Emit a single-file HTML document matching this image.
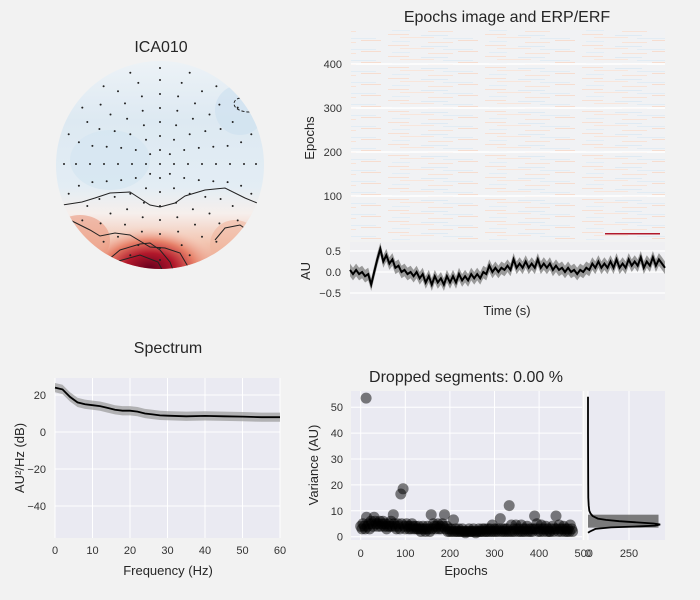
<!DOCTYPE html>
<html><head><meta charset="utf-8">
<style>
html,body{margin:0;padding:0;background:#f2f2f2;}
svg{display:block;font-family:"Liberation Sans",Arial,sans-serif;}
.tk{font-size:11px;fill:#333;}
.lb{font-size:13px;fill:#262626;}
.tt{font-size:16px;fill:#262626;}
</style></head>
<body>
<svg id="fig" width="700" height="600" viewBox="0 0 700 600">
<defs>
  <clipPath id="headclip"><circle cx="160" cy="165" r="104"/></clipPath>
  <radialGradient id="redblob" cx="0.5" cy="0.5" r="0.5">
    <stop offset="0" stop-color="#67001f"/>
    <stop offset="0.35" stop-color="#b2182b"/>
    <stop offset="0.65" stop-color="#e7826a"/>
    <stop offset="1" stop-color="#f7d8cc" stop-opacity="0"/>
  </radialGradient>
  <linearGradient id="headbg" x1="0" y1="0" x2="0" y2="1">
    <stop offset="0" stop-color="#eef3f7"/>
    <stop offset="0.3" stop-color="#dde9f2"/>
    <stop offset="0.6" stop-color="#e3edf4"/>
    <stop offset="0.72" stop-color="#f6efec"/>
    <stop offset="0.85" stop-color="#f3c6b2"/>
    <stop offset="1" stop-color="#e58b70"/>
  </linearGradient>
  <pattern id="noise" width="97" height="11" patternUnits="userSpaceOnUse">
    <rect width="97" height="11" fill="#f1f2f4"/>
    <rect x="0" y="1" width="21" height="1" fill="#f7e0d4"/>
    <rect x="33" y="2" width="27" height="1" fill="#dfeaf3"/>
    <rect x="12" y="4" width="34" height="1" fill="#f8e6dc"/>
    <rect x="55" y="5" width="30" height="1" fill="#e2ecf4"/>
    <rect x="70" y="7" width="20" height="1" fill="#f6ddd0"/>
    <rect x="4" y="8" width="18" height="1" fill="#e3edf5"/>
    <rect x="40" y="9" width="25" height="1" fill="#f7e3d8"/>
  </pattern>
</defs>

<!-- Topomap -->
<g>
  <text class="tt" x="161" y="52" text-anchor="middle">ICA010</text>
  <g clip-path="url(#headclip)">
    <rect x="50" y="55" width="220" height="220" fill="url(#headbg)"/>
    <ellipse cx="110" cy="160" rx="40" ry="30" fill="#d4e5f1" opacity="0.7"/>
    <ellipse cx="240" cy="110" rx="25" ry="25" fill="#cfe1ef" opacity="0.7"/>
    <ellipse cx="150" cy="268" rx="70" ry="42" fill="url(#redblob)"/>
    <ellipse cx="80" cy="240" rx="30" ry="25" fill="#eb9a80" opacity="0.6"/>
    <ellipse cx="235" cy="245" rx="25" ry="25" fill="#f0b59e" opacity="0.6"/>
    <path d="M56,206 L82,202 L95,198 L110,193 L130,192 L150,205 L160,207 L175,203 L185,196 L205,190 L225,188 L245,198 L262,205" fill="none" stroke="#222" stroke-width="1"/>
    <path d="M70,220 L90,230 L100,236 L115,233 L130,235 L150,247 L165,248 L180,253 L190,270" fill="none" stroke="#222" stroke-width="1"/>
    <path d="M108,260 L120,250 L140,244 L150,243 L160,250 L170,262 L175,275" fill="none" stroke="#222" stroke-width="1"/>
    <path d="M115,262 L140,255 L158,262 L165,275" fill="none" stroke="#222" stroke-width="1"/>
    <path d="M215,240 L225,228 L240,225 L250,232" fill="none" stroke="#222" stroke-width="1"/>
    <path d="M240,98 C230,100 232,112 250,112" fill="none" stroke="#222" stroke-width="1" stroke-dasharray="3,2"/>
  </g>
  <g id="sensors" fill="#222"></g>
</g>

<!-- Epochs image -->
<g>
  <text class="tt" x="507" y="22" text-anchor="middle">Epochs image and ERP/ERF</text>
  <rect x="351" y="30" width="314" height="210" fill="url(#noise)"/>
  <rect x="605" y="233" width="55" height="1.5" fill="#b2182b"/>
  <g id="epochsGrid"></g>
  <text class="lb" transform="translate(314,138) rotate(-90)" text-anchor="middle">Epochs</text>
  <g id="erp"></g>
  <text class="lb" transform="translate(310,271) rotate(-90)" text-anchor="middle">AU</text>
  <text class="lb" x="507" y="315" text-anchor="middle">Time (s)</text>
</g>

<!-- Spectrum -->
<g>
  <text class="tt" x="168" y="353" text-anchor="middle">Spectrum</text>
  <g id="spec"></g>
  <text class="lb" transform="translate(24,458) rotate(-90)" text-anchor="middle">AU²/Hz (dB)</text>
  <text class="lb" x="168" y="575" text-anchor="middle">Frequency (Hz)</text>
</g>

<!-- Dropped segments -->
<g>
  <text class="tt" x="466" y="382" text-anchor="middle">Dropped segments: 0.00 %</text>
  <g id="varp"></g>
  <text class="lb" transform="translate(318,465) rotate(-90)" text-anchor="middle">Variance (AU)</text>
  <text class="lb" x="466" y="575" text-anchor="middle">Epochs</text>
  <g id="hist"></g>
</g>
</svg>

<script>
// ---- data ----
const epochTicks = [100, 200, 300, 400];
const erpValues = [0.05,-0.05,0.05,-0.05,0.0,-0.1,-0.05,-0.3,0.0,0.3,0.55,0.25,0.4,0.2,0.3,0.1,0.15,0.0,0.05,-0.05,0.0,-0.1,0.0,-0.15,-0.05,-0.25,-0.1,-0.3,-0.1,-0.25,-0.15,-0.3,-0.1,-0.25,-0.1,-0.25,-0.05,-0.2,-0.1,-0.2,-0.05,-0.15,-0.05,-0.15,0.0,-0.05,0.15,0.0,0.1,0.0,0.1,0.05,0.15,0.05,0.3,0.1,0.2,0.1,0.25,0.1,0.2,0.1,0.3,0.1,0.2,0.1,0.2,0.05,0.15,0.05,0.1,0.0,0.1,0.0,0.05,-0.05,0.05,0.0,0.1,0.05,0.2,0.1,0.25,0.1,0.2,0.1,0.25,0.1,0.3,0.1,0.2,0.1,0.3,0.15,0.25,0.15,0.35,0.1,0.25,0.15,0.35,0.15,0.3,0.2,0.1];
const erpTicks = [0.5, 0.0, -0.5];
const erpTickLabels = ["0.5", "0.0", "\u22120.5"];
const specFreqs = [0,2,4,6,8,10,12,14,16,18,20,22,24,26,28,30,35,40,45,50,55,60];
const specPower = [24,23,19,16,15,14.5,14,13,12,11.5,11.5,11,10,9.5,9,8.8,8.5,8.7,8.5,8.3,8,8];
const specXTicks = [0,10,20,30,40,50,60];
const specYTicks = [20,0,-20,-40];
const varEpochs = [0,3,5,8,10,12,13,15,18,20,23,25,28,30,32,35,38,40,43,45,48,50,53,55,58,60,63,65,68,70,73,75,78,80,83,85,88,90,92,95,98,100,103,105,108,110,113,115,118,120,123,125,128,130,133,135,138,140,143,145,148,150,153,155,158,160,163,165,168,170,173,175,178,180,183,185,188,190,193,195,198,200,203,205,208,210,213,215,218,220,223,225,228,230,233,235,238,240,243,245,248,250,253,255,258,260,263,265,268,270,273,275,278,280,283,285,288,290,293,295,298,300,303,305,308,310,313,315,318,320,323,325,328,330,333,335,338,340,343,345,348,350,353,355,358,360,363,365,368,370,373,375,378,380,383,385,388,390,393,395,398,400,403,405,408,410,413,415,418,420,423,425,428,430,433,435,438,440,443,445,448,450,453,455,458,460,463,465,468,470,473,475];
const varValues = [4,3,5,4,3,53.5,7.5,4,5,3,6,5,4,7.5,6,5,4,5,6,4,5,6,4,5,3,4,5,4,6,4,8.5,5,4,3,5,4,3,16.5,5,18.5,4,3,5,4,3,4,3,5,4,3,4,3,3,4,3,2,3,4,3,2,3,4,3,2,8.5,3,5,4,3,4,5,3,4,3,5,4,8.5,3,4,2,3,2,3,2,6.5,2,3,2,2,3,2,2,3,2,2,1.5,2,2,3,2,2,2,3,2,1.5,2,2,3,2,2,3,2,3,2,2,3,2,3,2,4.5,2,3,2,3,2,3,7,2,3,2,3,2,3,2,12,2,4.5,2,3,2,4.5,3,2,3,2,4.5,2,3,2,3,4,2,3,2,3,2,3,8,3,5,2,3,2,4.5,3,2,3,4,2,3,2,2,3,4,2,3,8,3,2,4.5,3,2,3,4,2,3,2,3,2,4.5,3,2,3,2,4,3,2,3,2];
const varXTicks = [0,100,200,300,400,500];
const varYTicks = [0,10,20,30,40,50];
const histLow = [3.5];
const histHigh = [8.5];
const histCounts = [430];
const densityVar = [1.5,2,3,3.6,4,4.3,4.7,5.1,5.5,6,6.5,7,8,9,10,12,15,20,30,40,54];
const densityVal = [0,12,45,140,320,410,440,400,310,190,110,60,28,15,8,4,2,1,0.5,0.2,0];
const histXTicks = [0,250];

const NS = "http://www.w3.org/2000/svg";
function mk(parent, tag, attrs){const e=document.createElementNS(NS,tag);for(const k in attrs)e.setAttribute(k,attrs[k]);parent.appendChild(e);return e;}
function lin(d0,d1,r0,r1){return v=>r0+(v-d0)*(r1-r0)/(d1-d0);}

// sensors (decorative layout)
(function(){
  const g=document.getElementById('sensors');
  const rings=[[0,1],[14,8],[28,12],[42,16],[56,20],[70,24],[84,24],[96,20]];
  rings.forEach(([r,n])=>{for(let i=0;i<n;i++){const a=2*Math.PI*i/n-Math.PI/2;const x=160+r*Math.cos(a),y=164+r*Math.sin(a);
    if(Math.hypot(x-160,y-165)<100){const c=mk(g,'circle',{cx:x.toFixed(1),cy:y.toFixed(1),r:1});
    
    }}});
})();

// epochs image axis
(function(){
  const g=document.getElementById('epochsGrid');
  const y=lin(0,100,240,196);
  epochTicks.forEach(t=>{
    const l=mk(g,'line',{x1:351,x2:665,y1:y(t),y2:y(t),stroke:'#fff','stroke-width':1.5});
    
    
    const tx=mk(g,'text',{class:'tk',x:342,y:y(t)+4,'text-anchor':'end'});tx.textContent=t;
    
    
  });
})();

// ERP
(function(){
  const g=document.getElementById('erp');
  mk(g,'rect',{x:350,y:242,width:315,height:58,fill:'#efeff2'});
  const y=lin(0,0.5,272,251);
  const x=lin(0,erpValues.length-1,350,665);
  erpTicks.forEach((t,i)=>{
    const l=mk(g,'line',{x1:350,x2:665,y1:y(t),y2:y(t),stroke:'#fff','stroke-width':1.2});
    
    
    const tx=mk(g,'text',{class:'tk',x:341,y:y(t)+4,'text-anchor':'end'});tx.textContent=erpTickLabels[i];
    
    
  });
  let up='',dn='';
  erpValues.forEach((v,i)=>{up+=(i?'L':'M')+x(i).toFixed(1)+','+y(v+0.15).toFixed(1);});
  for(let i=erpValues.length-1;i>=0;i--){dn+='L'+x(i).toFixed(1)+','+y(erpValues[i]-0.15).toFixed(1);}
  const band=mk(g,'path',{d:up+dn+'Z',fill:'#8a8a8a',opacity:0.85});
  
  
  let d='';erpValues.forEach((v,i)=>{d+=(i?'L':'M')+x(i).toFixed(1)+','+y(v).toFixed(1);});
  const ln=mk(g,'path',{d:d,fill:'none',stroke:'#000','stroke-width':2});
  
  
})();

// Spectrum
(function(){
  const g=document.getElementById('spec');
  mk(g,'rect',{x:55,y:378,width:225,height:160,fill:'#eaeaf2'});
  const x=lin(0,60,55,280), y=lin(0,20,432,395);
  specXTicks.forEach(t=>{
    const l=mk(g,'line',{x1:x(t),x2:x(t),y1:378,y2:538,stroke:'#fff','stroke-width':1});
    
    
    const tx=mk(g,'text',{class:'tk',x:x(t),y:554,'text-anchor':'middle'});tx.textContent=t;
    
    
  });
  specYTicks.forEach(t=>{
    const l=mk(g,'line',{x1:55,x2:280,y1:y(t),y2:y(t),stroke:'#fff','stroke-width':1});
    
    
    const tx=mk(g,'text',{class:'tk',x:46,y:y(t)+4,'text-anchor':'end'});tx.textContent=t===0?'0':(t<0?'\u2212'+(-t):t);
    
    
  });
  let up='',dn='';
  specFreqs.forEach((f,i)=>{up+=(i?'L':'M')+x(f).toFixed(1)+','+y(specPower[i]+2.5).toFixed(1);});
  for(let i=specFreqs.length-1;i>=0;i--){dn+='L'+x(specFreqs[i]).toFixed(1)+','+y(specPower[i]-2.5).toFixed(1);}
  const band=mk(g,'path',{d:up+dn+'Z',fill:'#999',opacity:0.7});
  
  
  let d='';specFreqs.forEach((f,i)=>{d+=(i?'L':'M')+x(f).toFixed(1)+','+y(specPower[i]).toFixed(1);});
  const ln=mk(g,'path',{d:d,fill:'none',stroke:'#000','stroke-width':1.8});
  
  
})();

// Variance scatter
(function(){
  const g=document.getElementById('varp');
  mk(g,'rect',{x:351,y:391,width:231,height:149,fill:'#eaeaf2'});
  const x=lin(0,100,360.7,405.3), y=lin(0,10,536.7,510.8);
  varXTicks.forEach(t=>{
    const l=mk(g,'line',{x1:x(t),x2:x(t),y1:391,y2:540,stroke:'#fff','stroke-width':1});
    
    
    const tx=mk(g,'text',{class:'tk',x:x(t),y:557,'text-anchor':'middle'});tx.textContent=t;
    
    
  });
  varYTicks.forEach(t=>{
    const l=mk(g,'line',{x1:351,x2:582,y1:y(t),y2:y(t),stroke:'#fff','stroke-width':1});
    
    
    const tx=mk(g,'text',{class:'tk',x:343,y:y(t)+4,'text-anchor':'end'});tx.textContent=t;
    
    
  });
  const n=Math.min(varEpochs.length,varValues.length);
  for(let i=0;i<n;i++){
    const c=mk(g,'circle',{cx:x(varEpochs[i]).toFixed(1),cy:y(varValues[i]).toFixed(1),r:5.5,fill:'#000','fill-opacity':0.5});
    
    
  }
})();

// Histogram
(function(){
  const g=document.getElementById('hist');
  mk(g,'rect',{x:588,y:391,width:77,height:149,fill:'#eaeaf2'});
  const x=lin(0,250,588,629), y=lin(0,10,536.7,510.8);
  histXTicks.forEach(t=>{
    const l=mk(g,'line',{x1:x(t),x2:x(t),y1:391,y2:540,stroke:'#fff','stroke-width':1});
    
    
    const tx=mk(g,'text',{class:'tk',x:x(t),y:557,'text-anchor':'middle'});tx.textContent=t;
    
    
  });
  histCounts.forEach((c,i)=>{
    const r=mk(g,'rect',{x:x(0),y:y(histHigh[i]),width:x(c)-x(0),height:y(histLow[i])-y(histHigh[i]),fill:'#666',opacity:0.85});
    
    
  });
  let d='';densityVar.forEach((v,i)=>{d+=(i?'L':'M')+x(densityVal[i]).toFixed(1)+','+y(v).toFixed(1);});
  const ln=mk(g,'path',{d:d,fill:'none',stroke:'#000','stroke-width':1.8});
  
  
})();
</script>
</body></html>
